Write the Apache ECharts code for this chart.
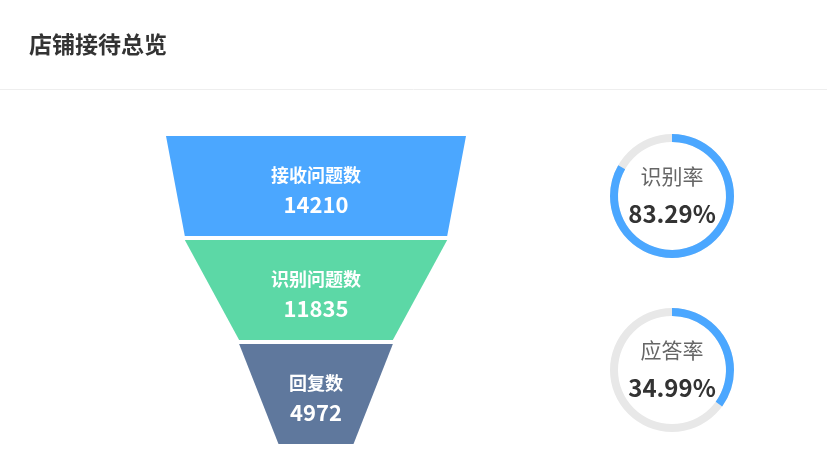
<!DOCTYPE html>
<html>
<head>
<meta charset="utf-8">
<script src="https://cdn.jsdelivr.net/npm/echarts@6/dist/echarts.min.js"></script>
<style>
html,body{margin:0;padding:0;background:#fff;}
#c{width:827px;height:458px;}
</style>
</head>
<body>
<div id="c"></div>
<script>
var titleText = '店铺接待总览';
var funnelNames = ['接收问题数', '识别问题数', '回复数'];
var funnelValues = [14210, 11835, 4972];
var funnelColors = ['#4BA7FF', '#5CD8A6', '#5F789D'];
var rateNames = ['识别率', '应答率'];
var rateValues = [83.29, 34.99];

var FONT = '"Microsoft YaHei", "Noto Sans CJK SC", "Noto Sans", sans-serif';

var chart = echarts.init(document.getElementById('c'));

var funnelData = funnelNames.map(function (n, i) {
  return { name: n, value: funnelValues[i], itemStyle: { color: funnelColors[i] } };
});

function gaugeSeries(i, cy) {
  return {
    type: 'gauge',
    center: [672, cy],
    radius: 62,
    startAngle: 90,
    endAngle: -270,
    min: 0,
    max: 100,
    animation: false,
    pointer: { show: false },
    progress: { show: true, width: 8, roundCap: false, itemStyle: { color: '#4BA7FF' } },
    axisLine: { lineStyle: { width: 8, color: [[1, '#E8E8E8']] } },
    splitLine: { show: false },
    axisTick: { show: false },
    axisLabel: { show: false },
    title: { offsetCenter: [0, '-33%'], fontSize: 21, color: '#666', fontFamily: FONT },
    detail: {
      offsetCenter: [0, '29%'], fontSize: 24, fontWeight: 'bold', color: '#333',
      fontFamily: FONT, formatter: '{value}%'
    },
    data: [{ value: rateValues[i], name: rateNames[i] }]
  };
}

chart.setOption({
  animation: false,
  title: {
    text: titleText,
    left: 24,
    top: 28,
    textStyle: { fontSize: 23, fontWeight: 'bold', color: '#333', fontFamily: FONT }
  },
  graphic: [{
    type: 'line',
    shape: { x1: 0, y1: 89.5, x2: 827, y2: 89.5 },
    style: { stroke: '#EEEEEE', lineWidth: 1 }
  }],
  series: [{
    type: 'funnel',
    left: 166,
    top: 136,
    width: 300,
    height: 308,
    min: 0,
    max: 14210,
    minSize: '25%',
    maxSize: '100%',
    sort: 'descending',
    gap: 4,
    label: {
      show: true,
      position: 'inside',
      formatter: function (p) { return '{a|' + p.name + '}\n{b|' + p.value + '}'; },
      rich: {
        a: { fontSize: 18, fontWeight: 'bold', color: '#fff', lineHeight: 37, fontFamily: FONT },
        b: { fontSize: 22, fontWeight: 'bold', color: '#fff', lineHeight: 22, fontFamily: FONT }
      }
    },
    labelLine: { show: false },
    itemStyle: { borderWidth: 0 },
    data: funnelData
  }, gaugeSeries(0, 196), gaugeSeries(1, 370)]
});
</script>
</body>
</html>
